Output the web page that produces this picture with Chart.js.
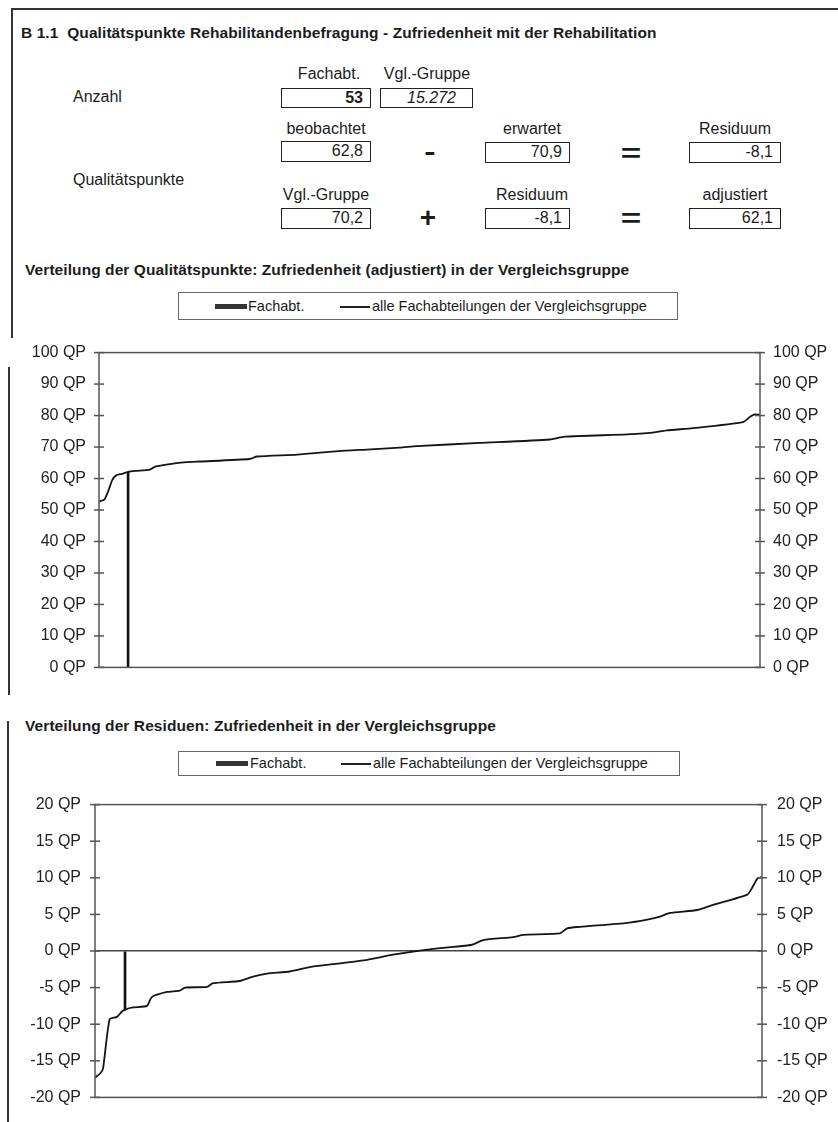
<!DOCTYPE html>
<html lang="de">
<head>
<meta charset="utf-8">
<title>B 1.1 Qualitätspunkte Rehabilitandenbefragung</title>
<script src="https://cdn.jsdelivr.net/npm/chart.js@4.4.1/dist/chart.umd.min.js"></script>
<style>
  body { margin: 0; background: #fff; font-family: "Liberation Sans", Arial, sans-serif; color: #1c1c1c; }
  #page { position: relative; width: 838px; height: 1122px; overflow: hidden; background: #fff; }
  .abs { position: absolute; white-space: nowrap; }
  .txt { font-size: 16px; line-height: 18px; }
  .ttl { font-size: 15.5px; line-height: 18px; font-weight: bold; letter-spacing: 0.08px; }
  .lbl { font-size: 16px; line-height: 18px; text-align: center; }
  .box { position: absolute; border: 1.5px solid #222; box-sizing: border-box; font-size: 16px;
         line-height: 17px; text-align: right; padding-right: 7px; }
  .op { position: absolute; font-weight: bold; text-align: center; }
  .frame { position: absolute; background: #333; }
  .legend { position: absolute; border: 1px solid #666; box-sizing: border-box; font-size: 14.5px; }
  .legend span { position: absolute; white-space: nowrap; line-height: 17px; }
  .sw-bar { position: absolute; height: 5px; background: #333; }
  .sw-line { position: absolute; height: 1.5px; background: #222; }
  canvas { position: absolute; left: 0; }
</style>
</head>
<body>
<div id="page">
  <!-- page frame -->
  <div class="frame" style="left:12px; top:8px; width:826px; height:2px;"></div>
  <div class="frame" style="left:11px; top:8px; width:2px; height:330px;"></div>
  <div class="frame" style="left:8px; top:367px; width:2px; height:328px;"></div>
  <div class="frame" style="left:7px; top:721px; width:2px; height:401px;"></div>

  <div class="abs ttl" style="left:21px; top:24px;">B 1.1&nbsp;&nbsp;Qualitätspunkte Rehabilitandenbefragung - Zufriedenheit mit der Rehabilitation</div>

  <div class="abs txt" style="left:73px; top:88px;">Anzahl</div>
  <div class="abs txt" style="left:73px; top:171px;">Qualitätspunkte</div>

  <div class="abs lbl" style="left:279px; width:100px; top:65px;">Fachabt.</div>
  <div class="abs lbl" style="left:377px; width:100px; top:65px;">Vgl.-Gruppe</div>
  <div class="box" style="left:281px; top:88px; width:90px; height:20px; font-weight:bold;">53</div>
  <div class="box" style="left:380px; top:88px; width:93px; height:20px; font-style:italic; padding-right:16px;">15.272</div>

  <div class="abs lbl" style="left:276px; width:100px; top:120px;">beobachtet</div>
  <div class="abs lbl" style="left:482px; width:100px; top:120px;">erwartet</div>
  <div class="abs lbl" style="left:685px; width:100px; top:120px;">Residuum</div>
  <div class="box" style="left:281px; top:141px; width:90px; height:21px;">62,8</div>
  <div class="box" style="left:485px; top:142px; width:85px; height:21px;">70,9</div>
  <div class="box" style="left:689px; top:142px; width:92px; height:21px;">-8,1</div>
  <div class="op" style="left:415px; width:30px; top:136px; font-size:26px; line-height:30px; transform:scaleX(1.3);">-</div>
  <div class="op" style="left:616px; width:30px; top:138px; font-size:26px; line-height:30px; transform:scaleX(1.35);">=</div>

  <div class="abs lbl" style="left:276px; width:100px; top:186px;">Vgl.-Gruppe</div>
  <div class="abs lbl" style="left:482px; width:100px; top:186px;">Residuum</div>
  <div class="abs lbl" style="left:685px; width:100px; top:186px;">adjustiert</div>
  <div class="box" style="left:281px; top:208px; width:90px; height:21px;">70,2</div>
  <div class="box" style="left:485px; top:208px; width:85px; height:21px;">-8,1</div>
  <div class="box" style="left:689px; top:208px; width:92px; height:21px;">62,1</div>
  <div class="op" style="left:413px; width:30px; top:202px; font-size:28px; line-height:32px;">+</div>
  <div class="op" style="left:616px; width:30px; top:203px; font-size:26px; line-height:30px; transform:scaleX(1.35);">=</div>

  <!-- Chart 1 -->
  <div class="abs ttl" style="left:25px; top:261px;">Verteilung der Qualitätspunkte: Zufriedenheit (adjustiert) in der Vergleichsgruppe</div>
  <div class="legend" style="left:178px; top:292px; width:500px; height:28px;">
    <div class="sw-bar" style="left:36px; top:11px; width:32px;"></div>
    <span style="left:69px; top:5px;">Fachabt.</span>
    <div class="sw-line" style="left:161px; top:13px; width:30px;"></div>
    <span style="left:193px; top:5px;">alle Fachabteilungen der Vergleichsgruppe</span>
  </div>
  <canvas id="chartQP" style="top:330px;" width="838" height="360"></canvas>

  <!-- Chart 2 -->
  <div class="abs ttl" style="left:25px; top:717px;">Verteilung der Residuen: Zufriedenheit in der Vergleichsgruppe</div>
  <div class="legend" style="left:178px; top:751px; width:502px; height:25px;">
    <div class="sw-bar" style="left:37px; top:9px; width:32px;"></div>
    <span style="left:71px; top:3px;">Fachabt.</span>
    <div class="sw-line" style="left:162px; top:11px; width:30px;"></div>
    <span style="left:194px; top:3px;">alle Fachabteilungen der Vergleichsgruppe</span>
  </div>
  <canvas id="chartRes" style="top:780px;" width="838" height="342"></canvas>
</div>

<script>
// position of each department within the comparison group (percent of ranks)
const qpRank = [0, 0.8, 1.4, 2.0, 2.6, 3.5, 4.4, 5.5, 7.7, 8.5, 10.7, 13.3, 15.3, 22.8, 23.9,
                30.0, 36.2, 40.5, 45.5, 48.1, 57.6, 68.2, 70.5, 79.9, 83.8, 85.9, 89.9, 97.4, 98.5, 99.2, 100];
// adjusted quality points, sorted
const qpAdjusted = [52.7, 53.3, 56.0, 59.5, 61.0, 61.5, 62.1, 62.4, 62.8, 63.8, 64.6, 65.2, 65.4, 66.2, 67.0,
                    67.6, 68.7, 69.2, 69.8, 70.3, 71.3, 72.4, 73.3, 74.0, 74.6, 75.3, 76.0, 77.9, 79.6, 80.4, 80.2];

const resRank = [0, 0.8, 1.2, 2.2, 3.3, 4.0, 4.5, 5.7, 7.8, 8.5, 10.8, 12.7, 13.5, 16.8, 17.7, 21.7,
                 23.7, 25.8, 29.2, 32.2, 35.7, 40.8, 44.7, 50.7, 55.8, 56.7, 58.2, 62.7, 64.2, 69.7, 70.8,
                 72.7, 79.8, 82.8, 84.7, 86.2, 90.3, 92.7, 97.8, 98.5, 99.3, 100];
// residuals, sorted
const resValues = [-17.3, -16.7, -16.1, -9.3, -9.0, -8.3, -8.0, -7.7, -7.5, -6.3, -5.6, -5.4, -5.0, -4.9, -4.4, -4.1,
                   -3.5, -3.1, -2.8, -2.2, -1.8, -1.2, -0.5, 0.3, 0.75, 0.9, 1.5, 1.9, 2.2, 2.4, 3.1,
                   3.3, 3.85, 4.3, 4.7, 5.2, 5.6, 6.3, 7.7, 8.6, 9.9, 10.1];

// this department (Fachabt.)
const fachRankQP = 4.4;
const fachAdjusted = 62.1;
const fachRankRes = 4.5;
const fachResiduum = -8.1;

const qpAxis = { min: 0, max: 100, step: 10 };
const resAxis = { min: -20, max: 20, step: 5 };
const unitLabel = " QP";

const fontFamily = '"Liberation Sans", Arial, sans-serif';

// frame around the plot and small tick marks crossing both y axes
const frameTicks = {
  id: "frameTicks",
  afterDraw(chart) {
    const { ctx, chartArea } = chart;
    ctx.save();
    ctx.strokeStyle = "#555";
    ctx.lineWidth = 1.5;
    ctx.strokeRect(chartArea.left, chartArea.top, chartArea.right - chartArea.left, chartArea.bottom - chartArea.top);
    ["y", "y2"].forEach(id => {
      const scale = chart.scales[id];
      const x = scale.position === "left" ? chartArea.left : chartArea.right;
      scale.ticks.forEach(t => {
        const py = scale.getPixelForValue(t.value);
        ctx.beginPath();
        ctx.moveTo(x - 5, py);
        ctx.lineTo(x + 5, py);
        ctx.stroke();
      });
    });
    ctx.restore();
  }
};

function yScale(axis, position, width, pad, zeroLine) {
  return {
    type: "linear",
    position: position,
    min: axis.min,
    max: axis.max,
    afterFit: s => { s.width = width; },
    border: { display: false },
    grid: {
      display: !!zeroLine,
      drawTicks: false,
      drawOnChartArea: !!zeroLine,
      lineWidth: 1.5,
      color: c => (c.tick && c.tick.value === 0 ? "#444" : "rgba(0,0,0,0)")
    },
    ticks: {
      stepSize: axis.step,
      padding: pad,
      color: "#222",
      font: { family: fontFamily, size: 16 },
      callback: v => v + unitLabel
    }
  };
}

function makeChart(id, ranks, values, fachRank, fachValue, axis, sizes) {
  const ctx = document.getElementById(id).getContext("2d");
  return new Chart(ctx, {
    type: "line",
    data: {
      datasets: [
        {
          type: "bar",
          label: "Fachabt.",
          data: [{ x: fachRank, y: fachValue }],
          backgroundColor: "#111",
          barThickness: 2,
          yAxisID: "y"
        },
        {
          label: "alle Fachabteilungen der Vergleichsgruppe",
          data: ranks.map((r, i) => ({ x: r, y: values[i] })),
          borderColor: "#151515",
          borderWidth: 1.8,
          pointRadius: 0,
          tension: 0.2,
          fill: false,
          yAxisID: "y"
        }
      ]
    },
    options: {
      responsive: false,
      animation: false,
      layout: { padding: { top: sizes.top, bottom: sizes.bottom, left: 0, right: 0 } },
      plugins: { legend: { display: false }, tooltip: { enabled: false } },
      scales: {
        x: { type: "linear", min: 0, max: 100, offset: false, display: false },
        y: yScale(axis, "left", sizes.left, sizes.padL, sizes.zero),
        y2: yScale(axis, "right", sizes.right, sizes.padR, false)
      }
    },
    plugins: [frameTicks]
  });
}

makeChart("chartQP", qpRank, qpAdjusted, fachRankQP, fachAdjusted, qpAxis,
  { top: 16, bottom: 17, left: 99, right: 78, padL: 13, padR: 13, zero: false });
makeChart("chartRes", resRank, resValues, fachRankRes, fachResiduum, resAxis,
  { top: 18, bottom: 23, left: 95, right: 76, padL: 14, padR: 15, zero: true });
</script>
</body>
</html>
